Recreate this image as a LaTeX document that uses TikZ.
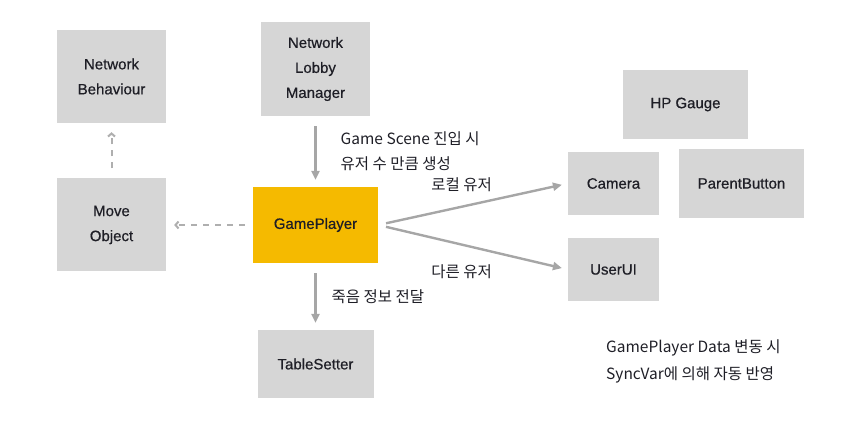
\documentclass[tikz,border=0pt]{standalone}
\usepackage{fontspec}
\usetikzlibrary{arrows.meta,positioning}
\newfontfamily\boxfont{Liberation Sans}[FakeBold=0.6]
\newfontfamily\krfont{Noto Sans CJK KR}
\definecolor{boxgray}{HTML}{D6D6D6}
\definecolor{gpyellow}{HTML}{F5BA00}
\definecolor{arrowgray}{HTML}{A6A6A6}
\definecolor{textdark}{HTML}{1E1E26}

\begin{document}
\begin{tikzpicture}[
  box/.style={rectangle, fill=boxgray, align=center, text=textdark, inner sep=0pt,
    font=\boxfont\fontsize{15}{25}\selectfont},
  mainbox/.style={box, fill=gpyellow},
  flow/.style={-{Triangle[length=9pt,width=8pt]}, line width=2.4pt, draw=arrowgray},
  dashflow/.style={-{Straight Barb[length=3pt,width=7pt]}, line width=2pt, draw=arrowgray!90,
    dash pattern=on 6pt off 6pt},
  lbl/.style={inner sep=0pt, align=left, text=textdark, font=\krfont\fontsize{15.5}{25}\selectfont},
  node distance=150pt
]
\useasboundingbox (0,0) rectangle (855pt,437pt);

% Central player object
\node[mainbox, minimum width=125pt, minimum height=76pt] (gp) at (315.5pt,212pt) {GamePlayer};

% Lobby manager and table setter
\node[box, minimum width=109pt, minimum height=94pt, above of=gp, node distance=156pt] (lobby) {Network\\Lobby\\Manager};
\node[box, minimum width=116pt, minimum height=68pt, below of=gp, node distance=139pt] (table) {TableSetter};

% Movement classes
\node[box, minimum width=109pt, minimum height=93pt, left of=gp, node distance=204pt] (move) {Move\\Object};
\node[box, minimum width=109pt, minimum height=93pt, above of=move, node distance=148.5pt] (behaviour) {Network\\Behaviour};

% UI side
\node[box, minimum width=91pt, minimum height=63pt, right of=gp, node distance=298pt, yshift=41.5pt] (camera) {Camera};
\node[box, minimum width=91pt, minimum height=63pt, below of=camera, node distance=86pt] (userui) {UserUI};
\node[box, minimum width=125pt, minimum height=69pt, right of=camera, node distance=128pt] (parent) {ParentButton};
\node[box, minimum width=125pt, minimum height=69pt, above of=parent, node distance=79pt, xshift=-56pt] (hp) {HP Gauge};

% Connections
\draw[flow, shorten <=10pt, shorten >=7pt] (lobby) -- node[lbl, midway, right=24pt] {Game Scene 진입 시\\유저 수 만큼 생성} (gp);
\draw[flow, shorten <=10pt, shorten >=7pt] (gp) -- node[lbl, midway, right=15pt] {죽음 정보 전달} (table);
\draw[dashflow, shorten <=8pt, shorten >=8pt] (gp) -- (move);
\draw[dashflow, shorten <=10pt, shorten >=9pt] (move) -- (behaviour);
\draw[flow, shorten <=8pt, shorten >=6pt] (gp.east) -- node[lbl, pos=0.44, above=14pt] {로컬 유저} (camera.west);
\draw[flow, shorten <=8pt, shorten >=6pt] (gp.east) -- node[lbl, pos=0.44, below=19pt] {다른 유저} (userui.west);

% Note
\node[lbl, anchor=west, font=\krfont\fontsize{15.5}{26.5}\selectfont] (sync) at (606pt,75.5pt) {GamePlayer Data 변동 시\\SyncVar에 의해 자동 반영};

\end{tikzpicture}
\end{document}
